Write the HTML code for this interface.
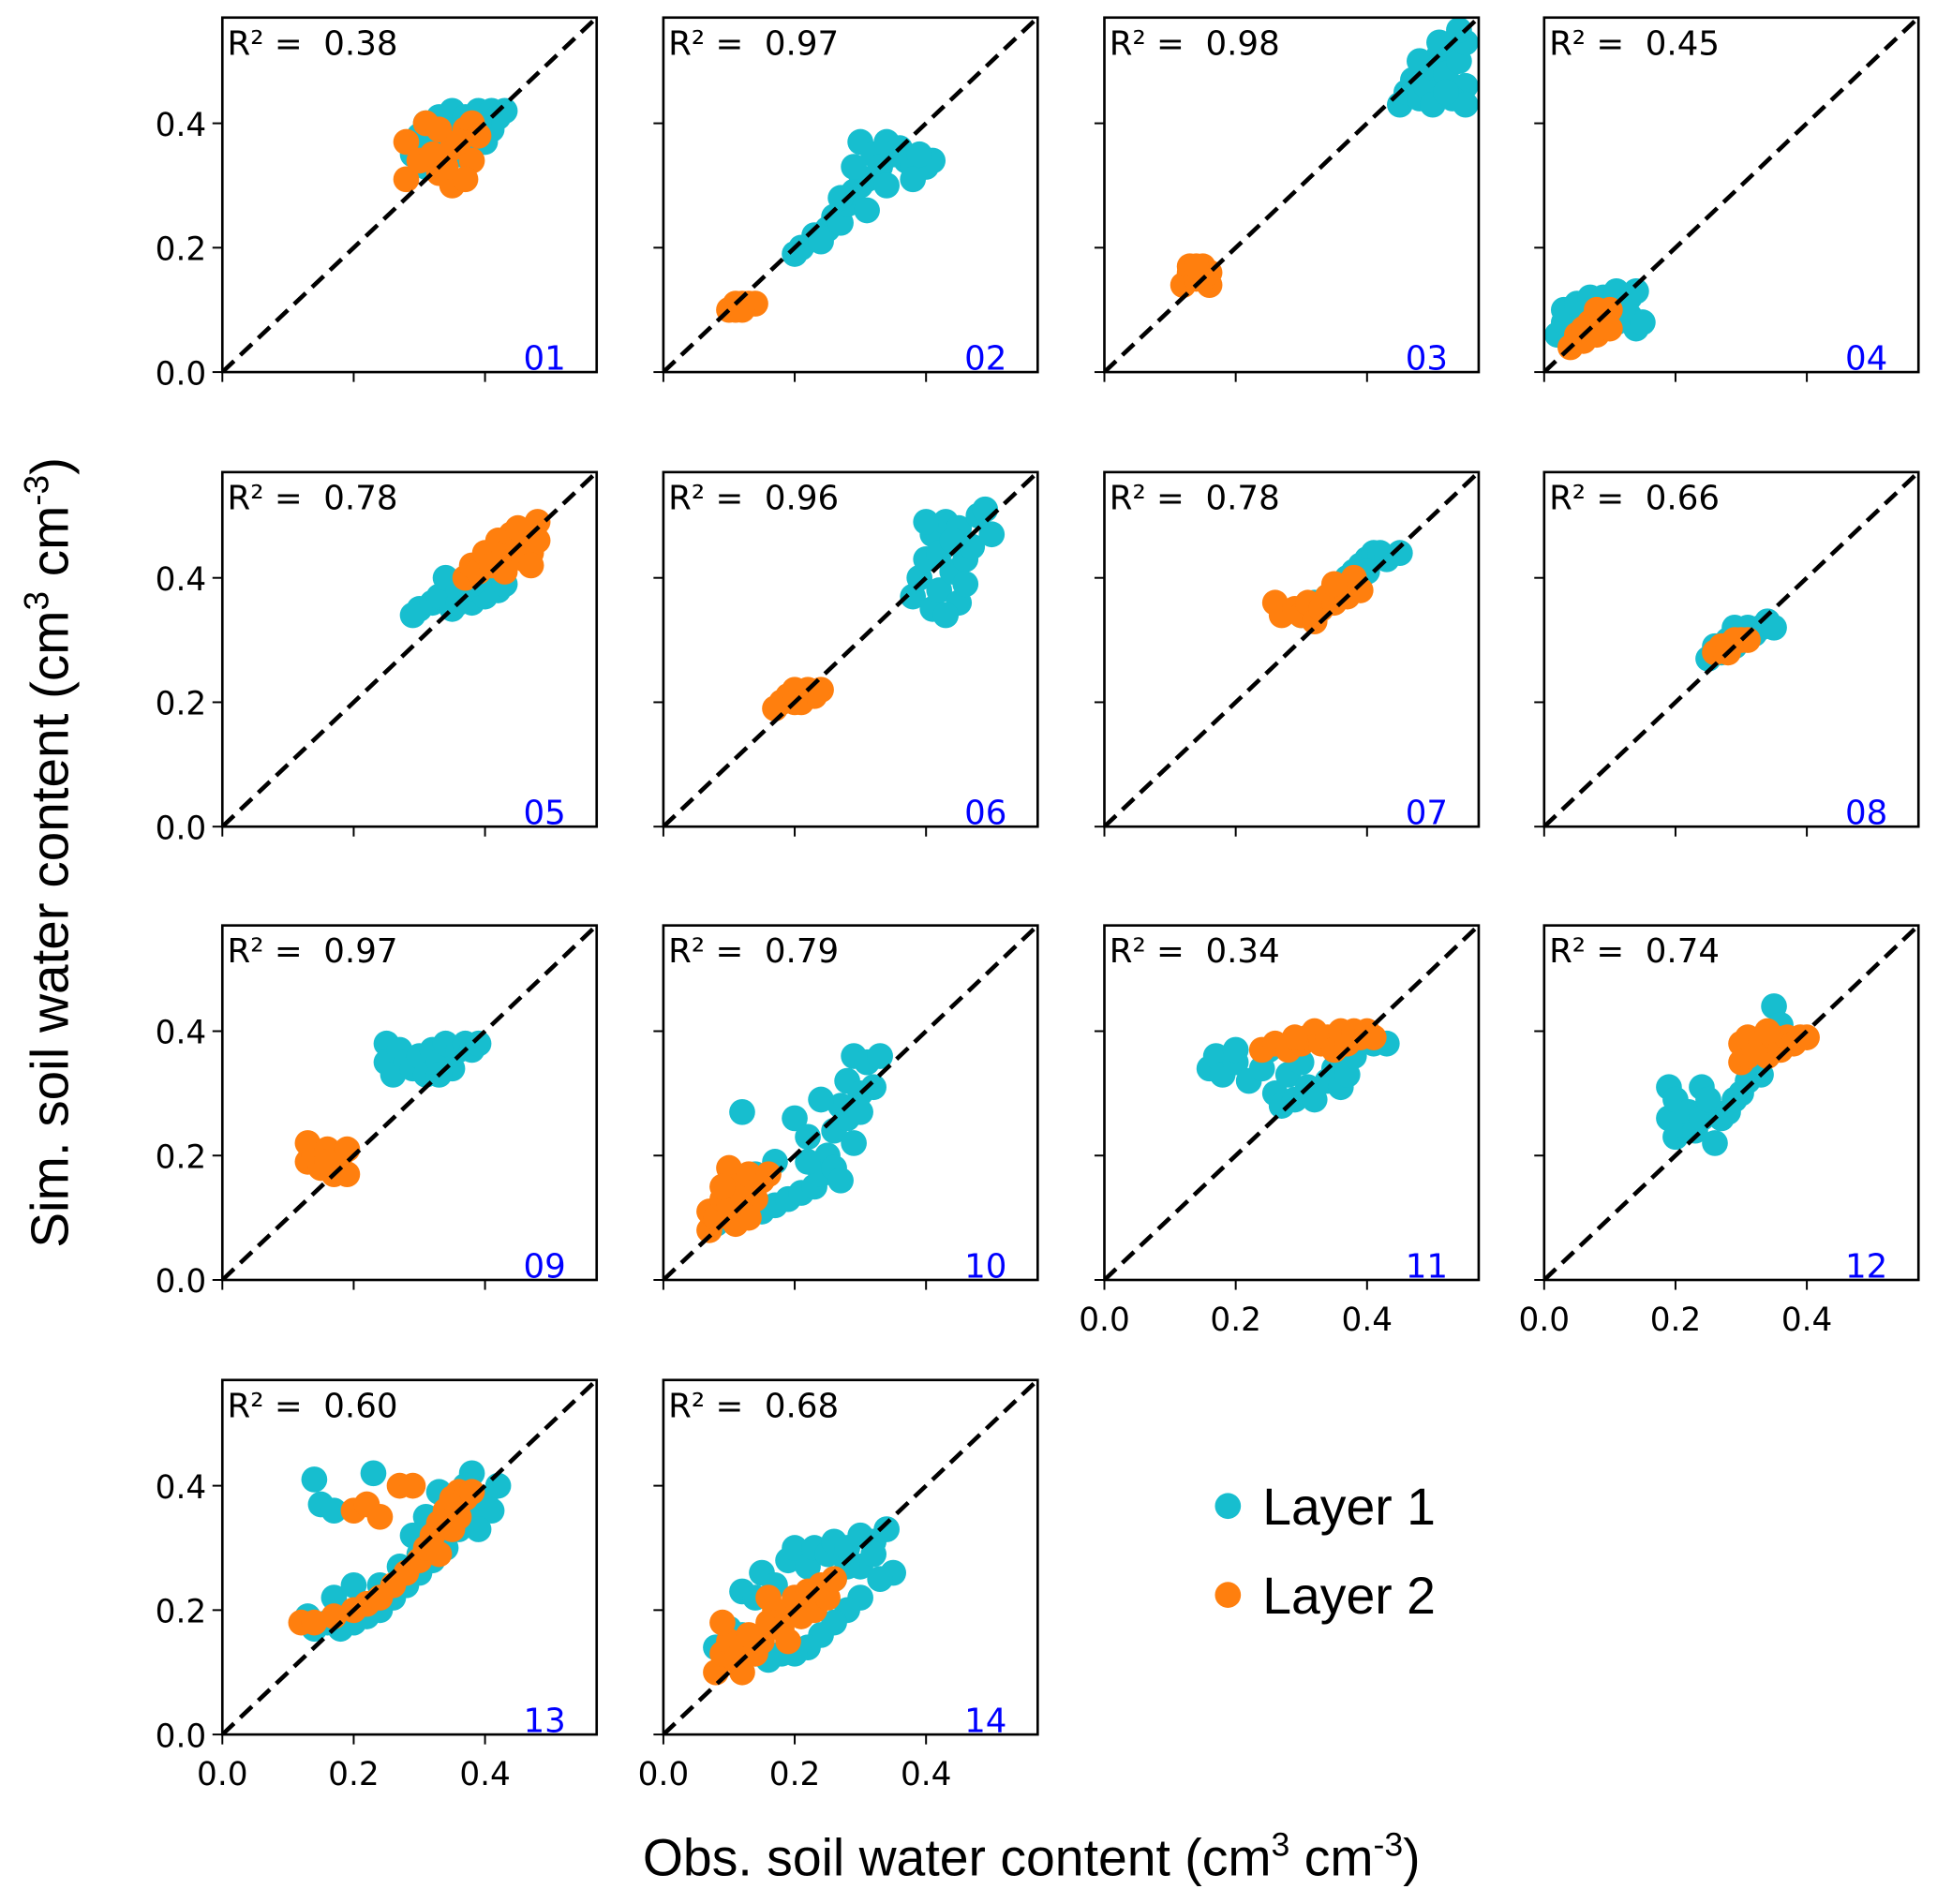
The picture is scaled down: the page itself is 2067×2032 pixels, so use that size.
<!DOCTYPE html>
<html><head><meta charset="utf-8"><style>
html,body{margin:0;padding:0;background:#fff;}
svg{display:block;}
</style></head><body>
<svg id="chart" width="2067" height="2032" viewBox="0 0 1568 1541" xmlns="http://www.w3.org/2000/svg"></svg>
<script>
const panelIds=["01","02","03","04","05","06","07","08","09","10","11","12","13","14"];
const r2Values=["0.38","0.97","0.98","0.45","0.78","0.96","0.78","0.66","0.97","0.79","0.34","0.74","0.60","0.68"];
const xTicks=[0,0.2,0.4];
const yTicks=[0,0.2,0.4];
const tickLabels=["0.0","0.2","0.4"];
const layer1Points=[
[[0.29,0.35],[0.3,0.38],[0.31,0.4],[0.33,0.41],[0.35,0.42],[0.37,0.41],[0.39,0.42],[0.41,0.42],[0.42,0.41],[0.43,0.42],[0.41,0.39],[0.40,0.37],[0.38,0.36],[0.36,0.35],[0.33,0.36],[0.31,0.33],[0.39,0.40],[0.34,0.39]],
[[0.2,0.19],[0.21,0.2],[0.23,0.22],[0.25,0.23],[0.26,0.25],[0.27,0.24],[0.28,0.27],[0.29,0.29],[0.3,0.3],[0.31,0.31],[0.3,0.37],[0.32,0.35],[0.33,0.33],[0.34,0.37],[0.35,0.35],[0.36,0.36],[0.37,0.34],[0.38,0.33],[0.4,0.33],[0.41,0.34],[0.39,0.35],[0.29,0.33],[0.31,0.26],[0.34,0.3],[0.38,0.31],[0.24,0.21],[0.27,0.28]],
[[0.45,0.43],[0.46,0.45],[0.47,0.47],[0.48,0.44],[0.49,0.46],[0.5,0.49],[0.5,0.43],[0.51,0.51],[0.52,0.48],[0.53,0.53],[0.54,0.5],[0.55,0.53],[0.55,0.46],[0.53,0.44],[0.55,0.43],[0.52,0.45],[0.54,0.55],[0.48,0.5],[0.51,0.53]],
[[0.02,0.06],[0.03,0.08],[0.03,0.1],[0.05,0.11],[0.07,0.12],[0.09,0.12],[0.11,0.13],[0.13,0.12],[0.14,0.13],[0.13,0.09],[0.14,0.07],[0.15,0.08],[0.11,0.08],[0.07,0.09],[0.05,0.07],[0.12,0.1]],
[[0.29,0.34],[0.3,0.35],[0.32,0.36],[0.33,0.37],[0.34,0.4],[0.35,0.35],[0.36,0.36],[0.37,0.37],[0.38,0.36],[0.39,0.38],[0.4,0.37],[0.41,0.38],[0.42,0.38],[0.43,0.39],[0.36,0.38],[0.38,0.39]],
[[0.38,0.37],[0.39,0.4],[0.4,0.43],[0.41,0.47],[0.41,0.35],[0.42,0.38],[0.42,0.44],[0.43,0.49],[0.44,0.41],[0.45,0.48],[0.45,0.36],[0.46,0.43],[0.47,0.45],[0.48,0.5],[0.49,0.51],[0.5,0.47],[0.44,0.46],[0.4,0.49],[0.43,0.34],[0.46,0.39]],
[[0.3,0.34],[0.32,0.36],[0.34,0.37],[0.36,0.38],[0.37,0.4],[0.38,0.41],[0.39,0.42],[0.4,0.43],[0.41,0.44],[0.42,0.44],[0.43,0.43],[0.45,0.44],[0.4,0.41],[0.38,0.38]],
[[0.25,0.27],[0.26,0.29],[0.27,0.28],[0.28,0.3],[0.29,0.29],[0.3,0.31],[0.31,0.32],[0.32,0.31],[0.33,0.32],[0.34,0.33],[0.35,0.32],[0.29,0.32]],
[[0.25,0.38],[0.25,0.35],[0.26,0.33],[0.27,0.37],[0.28,0.35],[0.29,0.34],[0.3,0.36],[0.31,0.33],[0.32,0.37],[0.33,0.35],[0.34,0.38],[0.35,0.34],[0.36,0.37],[0.37,0.38],[0.38,0.37],[0.39,0.38],[0.33,0.33]],
[[0.12,0.27],[0.1,0.11],[0.13,0.12],[0.15,0.11],[0.17,0.12],[0.19,0.13],[0.21,0.14],[0.23,0.15],[0.24,0.17],[0.25,0.2],[0.26,0.24],[0.27,0.28],[0.28,0.26],[0.28,0.32],[0.29,0.22],[0.29,0.36],[0.3,0.3],[0.31,0.35],[0.32,0.31],[0.33,0.36],[0.2,0.26],[0.22,0.23],[0.26,0.18],[0.27,0.16],[0.08,0.09],[0.14,0.17],[0.17,0.19],[0.24,0.29],[0.3,0.27],[0.22,0.19]],
[[0.16,0.34],[0.17,0.36],[0.18,0.33],[0.2,0.35],[0.22,0.32],[0.24,0.34],[0.25,0.37],[0.26,0.3],[0.27,0.28],[0.28,0.33],[0.29,0.29],[0.3,0.35],[0.31,0.31],[0.32,0.29],[0.34,0.32],[0.35,0.34],[0.36,0.31],[0.37,0.33],[0.38,0.36],[0.41,0.38],[0.43,0.38],[0.2,0.37]],
[[0.19,0.31],[0.19,0.26],[0.2,0.23],[0.2,0.29],[0.21,0.25],[0.22,0.27],[0.23,0.24],[0.24,0.31],[0.24,0.26],[0.25,0.29],[0.26,0.22],[0.27,0.26],[0.28,0.27],[0.29,0.29],[0.3,0.3],[0.31,0.32],[0.32,0.34],[0.33,0.36],[0.34,0.39],[0.35,0.44],[0.36,0.41],[0.33,0.33]],
[[0.14,0.41],[0.15,0.37],[0.17,0.36],[0.23,0.42],[0.13,0.19],[0.14,0.17],[0.16,0.18],[0.18,0.17],[0.2,0.18],[0.22,0.19],[0.24,0.2],[0.26,0.22],[0.28,0.24],[0.3,0.26],[0.32,0.28],[0.34,0.3],[0.36,0.33],[0.38,0.36],[0.4,0.38],[0.42,0.4],[0.38,0.42],[0.33,0.39],[0.31,0.35],[0.29,0.32],[0.17,0.22],[0.2,0.24],[0.24,0.24],[0.27,0.27],[0.3,0.29],[0.35,0.37],[0.37,0.4],[0.41,0.36],[0.39,0.33]],
[[0.08,0.14],[0.1,0.17],[0.12,0.23],[0.14,0.22],[0.15,0.26],[0.17,0.24],[0.19,0.28],[0.2,0.3],[0.22,0.27],[0.23,0.3],[0.25,0.29],[0.26,0.31],[0.28,0.3],[0.3,0.32],[0.32,0.31],[0.34,0.33],[0.35,0.26],[0.33,0.25],[0.3,0.22],[0.28,0.2],[0.26,0.18],[0.24,0.16],[0.22,0.14],[0.2,0.13],[0.18,0.13],[0.16,0.12],[0.14,0.13],[0.12,0.16],[0.26,0.25],[0.3,0.27],[0.22,0.22],[0.18,0.18],[0.32,0.29],[0.24,0.22],[0.28,0.27]]
];
const layer2Points=[
[[0.28,0.31],[0.28,0.37],[0.3,0.34],[0.31,0.40],[0.33,0.39],[0.33,0.32],[0.35,0.30],[0.35,0.36],[0.37,0.39],[0.38,0.40],[0.39,0.38],[0.38,0.34],[0.37,0.31],[0.36,0.37],[0.32,0.35],[0.34,0.33]],
[[0.1,0.1],[0.11,0.11],[0.12,0.11],[0.13,0.11],[0.14,0.11],[0.12,0.1],[0.11,0.1]],
[[0.12,0.14],[0.13,0.16],[0.13,0.17],[0.14,0.15],[0.15,0.17],[0.16,0.14],[0.15,0.15],[0.16,0.16],[0.14,0.17]],
[[0.04,0.04],[0.05,0.06],[0.06,0.05],[0.07,0.08],[0.08,0.06],[0.09,0.09],[0.1,0.1],[0.08,0.1],[0.06,0.07],[0.1,0.07]],
[[0.37,0.4],[0.38,0.42],[0.39,0.41],[0.4,0.44],[0.41,0.42],[0.42,0.46],[0.43,0.44],[0.44,0.47],[0.45,0.45],[0.46,0.43],[0.47,0.44],[0.48,0.46],[0.48,0.49],[0.45,0.48],[0.47,0.42],[0.43,0.41]],
[[0.17,0.19],[0.18,0.2],[0.19,0.21],[0.2,0.22],[0.21,0.2],[0.22,0.22],[0.23,0.21],[0.24,0.22],[0.2,0.2]],
[[0.26,0.36],[0.27,0.34],[0.29,0.35],[0.3,0.34],[0.31,0.36],[0.32,0.33],[0.33,0.35],[0.34,0.37],[0.35,0.36],[0.36,0.38],[0.37,0.37],[0.38,0.39],[0.39,0.38],[0.38,0.4],[0.35,0.39]],
[[0.26,0.28],[0.27,0.29],[0.28,0.29],[0.29,0.3],[0.3,0.3],[0.31,0.3],[0.28,0.28]],
[[0.13,0.22],[0.13,0.19],[0.14,0.2],[0.15,0.18],[0.16,0.21],[0.17,0.17],[0.18,0.2],[0.19,0.21],[0.19,0.17],[0.16,0.19]],
[[0.07,0.08],[0.07,0.11],[0.08,0.1],[0.09,0.13],[0.1,0.12],[0.1,0.18],[0.11,0.15],[0.12,0.14],[0.13,0.17],[0.14,0.13],[0.15,0.16],[0.16,0.17],[0.11,0.09],[0.13,0.1],[0.09,0.15]],
[[0.24,0.37],[0.26,0.38],[0.28,0.37],[0.3,0.38],[0.31,0.39],[0.32,0.4],[0.33,0.38],[0.34,0.39],[0.35,0.37],[0.36,0.4],[0.37,0.38],[0.38,0.4],[0.39,0.39],[0.4,0.4],[0.41,0.39],[0.29,0.39]],
[[0.3,0.35],[0.3,0.38],[0.31,0.36],[0.31,0.39],[0.32,0.37],[0.33,0.38],[0.34,0.36],[0.35,0.39],[0.36,0.37],[0.37,0.39],[0.38,0.38],[0.39,0.39],[0.4,0.39],[0.34,0.4]],
[[0.2,0.36],[0.22,0.37],[0.24,0.35],[0.27,0.4],[0.29,0.4],[0.12,0.18],[0.14,0.18],[0.17,0.19],[0.2,0.2],[0.22,0.21],[0.24,0.22],[0.26,0.24],[0.28,0.26],[0.3,0.28],[0.31,0.3],[0.32,0.32],[0.33,0.34],[0.34,0.36],[0.35,0.38],[0.36,0.39],[0.37,0.38],[0.38,0.39],[0.35,0.33],[0.33,0.29],[0.36,0.35]],
[[0.08,0.1],[0.09,0.13],[0.1,0.15],[0.11,0.12],[0.12,0.14],[0.13,0.16],[0.14,0.13],[0.15,0.15],[0.16,0.18],[0.17,0.2],[0.18,0.17],[0.19,0.2],[0.2,0.22],[0.21,0.19],[0.22,0.23],[0.23,0.2],[0.24,0.24],[0.25,0.22],[0.26,0.25],[0.09,0.18],[0.12,0.1],[0.19,0.15],[0.16,0.22]]
];
const axisMax=0.57;

const NS="http://www.w3.org/2000/svg";
const svg=document.getElementById("chart");
function mk(tag,attrs,parent){const e=document.createElementNS(NS,tag);for(const k in attrs)e.setAttribute(k,attrs[k]);(parent||svg).appendChild(e);return e;}
const colX=[180,537,894,1250], rowY=[14,382,749,1117], PW=303, PH=287;
const C1="#17becf", C2="#ff7f0e";
const tickFont="'DejaVu Sans','Liberation Sans',sans-serif";
const R=10.5;

panelIds.forEach((id,i)=>{
  const col=i%4,row=Math.floor(i/4);
  const x0=colX[col], y0=rowY[row];
  const sx=v=>x0+v/axisMax*PW;
  const sy=v=>y0+PH-v/axisMax*PH;
  const g=mk("g",{});
  
  
  const clipId="clip"+i;
  const cp=mk("clipPath",{id:clipId},g);
  mk("rect",{x:x0,y:y0,width:PW,height:PH},cp);
  const pts=mk("g",{"clip-path":"url(#"+clipId+")"},g);
  layer1Points[i].forEach(p=>{
    const c=mk("circle",{cx:sx(p[0]),cy:sy(p[1]),r:R,fill:C1},pts);
    
    
  });
  layer2Points[i].forEach(p=>{
    const c=mk("circle",{cx:sx(p[0]),cy:sy(p[1]),r:R,fill:C2},pts);
    
    
  });
  const ln=mk("line",{x1:sx(0),y1:sy(0),x2:sx(axisMax),y2:sy(axisMax),stroke:"#000","stroke-width":3.5,"stroke-dasharray":"13,7"},pts);
  
  
  const fr=mk("rect",{x:x0,y:y0,width:PW,height:PH,fill:"none",stroke:"#000","stroke-width":2},g);
  
  
  xTicks.forEach((t,k)=>{
    mk("line",{x1:sx(t),x2:sx(t),y1:y0+PH,y2:y0+PH+8,stroke:"#000","stroke-width":1.5},g);
    const showX = row===3 || (row===2 && col>=2);
    if(showX){
      const tx=mk("text",{x:sx(t),y:y0+PH+41,"font-size":26,"text-anchor":"middle","font-family":tickFont},g);
      tx.textContent=tickLabels[k];
      
      
    }
  });
  yTicks.forEach((t,k)=>{
    mk("line",{x1:x0-8,x2:x0,y1:sy(t),y2:sy(t),stroke:"#000","stroke-width":1.5},g);
    if(col===0){
      const ty=mk("text",{x:x0-13,y:sy(t)+10,"font-size":26,"text-anchor":"end","font-family":tickFont},g);
      ty.textContent=tickLabels[k];
      
      
    }
  });
  const rt=mk("text",{x:x0+4,y:y0+30,"font-size":27,"font-family":tickFont},g);
  rt.textContent="R\u00b2 =\u00a0\u00a0"+r2Values[i];
  
  
  const nt=mk("text",{x:x0+PW-25,y:y0+PH-2,"font-size":27,"text-anchor":"end","fill":"#0000ff","font-family":tickFont},g);
  nt.textContent=id;
  
  
});

// legend
const lg=mk("g",{});


const legendItems=[["Layer 1",C1,1219],["Layer 2",C2,1291]];
legendItems.forEach(it=>{
  const c=mk("circle",{cx:994,cy:it[2],r:10.5,fill:it[1]},lg);
  
  
  const t=mk("text",{x:1022,y:it[2]+15,"font-size":42,"font-family":"'Liberation Sans',sans-serif"},lg);
  t.textContent=it[0];
  
  
});
</script>
<svg style="position:absolute;left:0;top:0" width="2067" height="2032" viewBox="0 0 1568 1541" xmlns="http://www.w3.org/2000/svg">
<text x="835" y="1518" font-size="42" text-anchor="middle" font-family="'Liberation Sans',sans-serif">Obs. soil water content (cm<tspan dy="-16" font-size="27">3</tspan><tspan dy="16"> cm</tspan><tspan dy="-16" font-size="27">-3</tspan><tspan dy="16">)</tspan></text>
<text transform="translate(55,690) rotate(-90)" font-size="43" text-anchor="middle" font-family="'Liberation Sans',sans-serif">Sim. soil water content (cm<tspan dy="-16" font-size="28">3</tspan><tspan dy="16"> cm</tspan><tspan dy="-16" font-size="28">-3</tspan><tspan dy="16">)</tspan></text>
</svg>
</body></html>
